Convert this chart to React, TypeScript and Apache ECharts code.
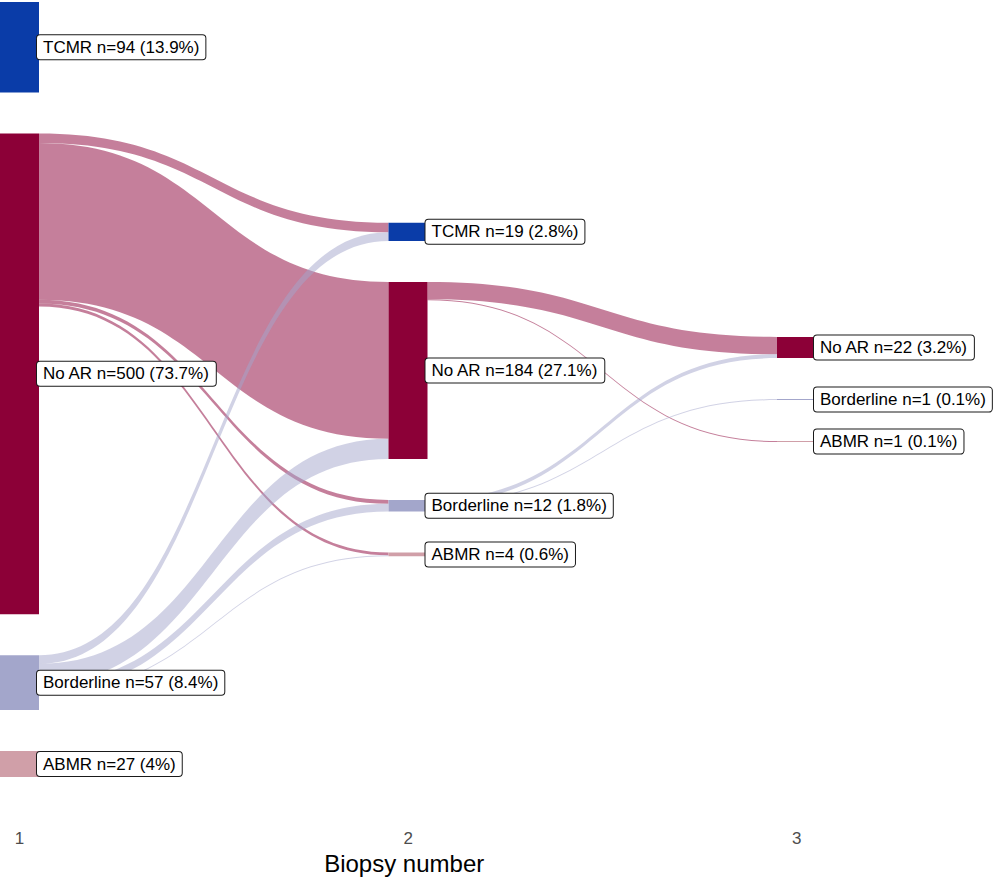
import React, { useEffect, useRef } from 'react';
import * as echarts from 'echarts';

// ---- data ----
const stageLabels = ['1', '2', '3'];

const stage1Categories = ['TCMR', 'No AR', 'Borderline', 'ABMR'];
const stage1Counts = [94, 500, 57, 27];

const stage2Categories = ['TCMR', 'No AR', 'Borderline', 'ABMR'];
const stage2Counts = [19, 184, 12, 4];

const stage3Categories = ['No AR', 'Borderline', 'ABMR'];
const stage3Counts = [22, 1, 1];

// flows from biopsy 1 to biopsy 2
const flow12From = ['No AR', 'No AR', 'No AR', 'No AR', 'Borderline', 'Borderline', 'Borderline', 'Borderline'];
const flow12To = ['TCMR', 'No AR', 'Borderline', 'ABMR', 'TCMR', 'No AR', 'Borderline', 'ABMR'];
const flow12Values = [10, 163, 4, 3, 9, 21, 8, 1];

// flows from biopsy 2 to biopsy 3
const flow23From = ['No AR', 'No AR', 'Borderline', 'Borderline'];
const flow23To = ['No AR', 'ABMR', 'No AR', 'Borderline'];
const flow23Values = [18, 1, 4, 1];

const categoryColors: Record<string, string> = {
  TCMR: '#0a3ca8',
  'No AR': '#8c0037',
  Borderline: '#a3a6cb',
  ABMR: '#d09fa8',
};

const FONT = '"Liberation Sans", Arial, Helvetica, sans-serif';

export default function App() {
  const ref = useRef<HTMLDivElement>(null);

  useEffect(() => {
    if (!ref.current) return;
    const chart = echarts.init(ref.current, null, { renderer: 'svg' });

    const layoutHeight = 775;
    const nodeGap = 41;
    const columns = [
      { cats: stage1Categories, counts: stage1Counts },
      { cats: stage2Categories, counts: stage2Counts },
      { cats: stage3Categories, counts: stage3Counts },
    ];
    const total = stage1Counts.reduce((a, b) => a + b, 0);

    // same scale ECharts uses: the fullest column fills the height
    let ky = Infinity;
    columns.forEach((c) => {
      const s = c.counts.reduce((a, b) => a + b, 0);
      const k = (layoutHeight - (c.counts.length - 1) * nodeGap) / s;
      if (k < ky) ky = k;
    });

    const nodes: any[] = [];
    columns.forEach((c, depth) => {
      const s = c.counts.reduce((a, b) => a + b, 0);
      const colH = s * ky + (c.counts.length - 1) * nodeGap;
      let y = (layoutHeight - colH) / 2;
      c.cats.forEach((cat, i) => {
        const v = c.counts[i];
        const pct = Math.round((v / total) * 1000) / 10;
        nodes.push({
          name: cat + '@' + (depth + 1),
          value: v,
          depth,
          localY: y / layoutHeight,
          labelText: `${cat} n=${v} (${pct}%)`,
          itemStyle: { color: categoryColors[cat] },
        });
        y += v * ky + nodeGap;
      });
    });

    const links: any[] = [];
    flow12Values.forEach((v, i) => {
      links.push({ source: flow12From[i] + '@1', target: flow12To[i] + '@2', value: v });
    });
    flow23Values.forEach((v, i) => {
      links.push({ source: flow23From[i] + '@2', target: flow23To[i] + '@3', value: v });
    });

    const option: any = {
      animation: false,
      backgroundColor: '#ffffff',
      grid: { left: 19.6, right: 203.2, top: 0, bottom: 58, containLabel: false },
      xAxis: {
        type: 'category',
        data: stageLabels,
        boundaryGap: false,
        axisLine: { show: false },
        axisTick: { show: false },
        splitLine: { show: false },
        axisLabel: { color: '#4d4d4d', fontSize: 17, fontFamily: FONT, margin: 5 },
        name: 'Biopsy number',
        nameLocation: 'middle',
        nameGap: 24,
        nameTextStyle: { color: '#000', fontSize: 24, fontFamily: FONT, padding: [0, 8, 0, 0] },
      },
      yAxis: { type: 'value', show: false, min: 0, max: 1 },
      series: [
        {
          type: 'sankey',
          left: 0,
          top: 2,
          width: 816,
          height: layoutHeight,
          nodeWidth: 39,
          nodeGap,
          nodeAlign: 'left',
          layoutIterations: 0,
          draggable: false,
          emphasis: { disabled: true },
          data: nodes,
          links,
          itemStyle: { borderWidth: 0 },
          lineStyle: { color: 'source', opacity: 0.5, curveness: 0.5 },
          label: {
            show: true,
            position: 'right',
            distance: -2,
            formatter: (p: any) => p.data.labelText,
            color: '#000',
            fontSize: 17,
            fontFamily: FONT,
            lineHeight: 18,
            backgroundColor: '#ffffff',
            borderColor: '#1a1a1a',
            borderWidth: 1,
            borderRadius: 3,
            padding: [3, 6, 3, 6],
          },
        },
      ],
    };

    chart.setOption(option);
    return () => chart.dispose();
  }, []);

  return (
    <div
      ref={ref}
      style={{ position: 'fixed', left: 0, top: 0, width: 1000, height: 883, background: '#fff' }}
    />
  );
}
